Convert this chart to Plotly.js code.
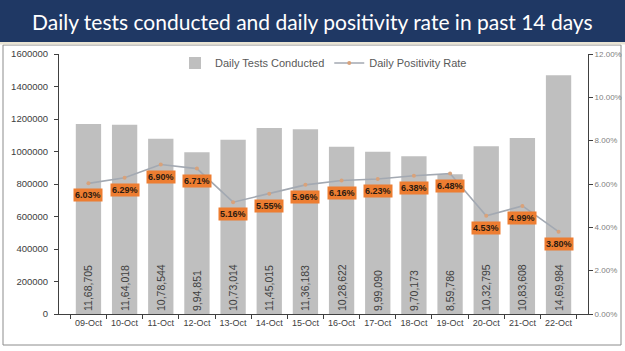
<!DOCTYPE html>
<html><head><meta charset="utf-8">
<script src="https://cdn.plot.ly/plotly-3.0.1.min.js"></script>
<style>html,body{margin:0;padding:0;background:#fff;overflow:hidden}#c{width:625px;height:351px}</style>
</head><body><div id="c"></div>
<script>
const dates = ["09-Oct","10-Oct","11-Oct","12-Oct","13-Oct","14-Oct","15-Oct","16-Oct","17-Oct","18-Oct","19-Oct","20-Oct","21-Oct","22-Oct"];
const tests = [1168705,1164018,1078544,994851,1073014,1145015,1136183,1028622,999090,970173,859786,1032795,1083608,1469984];
const testLabels = ["11,68,705","11,64,018","10,78,544","9,94,851","10,73,014","11,45,015","11,36,183","10,28,622","9,99,090","9,70,173","8,59,786","10,32,795","10,83,608","14,69,984"];
const rates = [6.03,6.29,6.90,6.71,5.16,5.55,5.96,6.16,6.23,6.38,6.48,4.53,4.99,3.80];

const L = 59, R = 588, T = 54, B = 314, W = 625, H = 351;
const px = x => (x - L) / (R - L);
const py = y => (B - y) / (B - T);

const traces = [
  {type:'bar', name:'Daily Tests Conducted', x:dates, y:tests, marker:{color:'#BFBFBF'}, width:0.7,
   text:testLabels, textposition:'inside', insidetextanchor:'start', textangle:-90,
   textfont:{family:'Liberation Sans, Arial', size:10.5, color:'#404040'}, hoverinfo:'none'},
  {type:'scatter', mode:'lines+markers', name:'Daily Positivity Rate', x:dates, y:rates, yaxis:'y2',
   line:{color:'#A3A9B2', width:1.6}, marker:{color:'#D9A27A', size:4}, hoverinfo:'none'}
];

const annotations = rates.map((r,i)=>({
  x:dates[i], y:r, xref:'x', yref:'y2', yshift:-12, showarrow:false,
  text:'<b>'+r.toFixed(2)+'%</b>', bgcolor:'#ED7D31', borderpad:1,
  font:{family:'Liberation Sans Narrow, Liberation Sans, Arial', size:9, color:'#2B1A10'}
}));
annotations.push({x:px(W/2), y:py(21), xref:'paper', yref:'paper', showarrow:false,
  xanchor:'center', yanchor:'middle',
  text:'Daily tests conducted and daily positivity rate in past 14 days',
  font:{family:'Lato, Open Sans', size:21, color:'#FFFFFF'}});

const layout = {
  width:W, height:H, margin:{l:L, r:W-R, t:T, b:H-B, pad:0, autoexpand:false},
  paper_bgcolor:'#FFFFFF', plot_bgcolor:'#FFFFFF', bargap:0.3,
  showlegend:true,
  legend:{orientation:'h', x:0.5, xanchor:'center', y:py(63), yanchor:'middle',
    font:{family:'Liberation Sans, Arial', size:11, color:'#595959'}, bgcolor:'rgba(0,0,0,0)', traceorder:'normal'},
  xaxis:{type:'category', showline:true, linecolor:'#404040', linewidth:1, ticks:'outside', ticklen:4,
    tickcolor:'#404040', tickson:'boundaries', showgrid:false, zeroline:false, tickangle:0, automargin:false,
    tickfont:{family:'Liberation Sans, Arial', size:9, color:'#404040'}},
  yaxis:{range:[0,1600000], dtick:200000, showline:true, linecolor:'#404040', linewidth:1, ticks:'outside',
    ticklen:4, tickcolor:'#404040', showgrid:false, zeroline:false, tickformat:'d', ticklabelstandoff:4, automargin:false,
    tickfont:{family:'Liberation Sans, Arial', size:9.5, color:'#404040'}},
  yaxis2:{overlaying:'y', side:'right', range:[0,12], dtick:2, tickformat:'.2f', ticksuffix:'%', automargin:false,
    showline:true, linecolor:'#404040', linewidth:1, ticks:'outside', ticklen:4, tickcolor:'#404040',
    showgrid:false, zeroline:false, tickfont:{family:'Liberation Sans, Arial', size:8, color:'#7F7F7F'}},
  shapes:[
    {type:'rect', xref:'paper', yref:'paper', x0:px(0), x1:px(W), y0:py(0), y1:py(42), fillcolor:'#1F3864', line:{width:0}, layer:'above'},
    {type:'rect', xref:'paper', yref:'paper', x0:px(0), x1:px(W), y0:py(42), y1:py(44.5), fillcolor:'#E9E4D4', line:{width:0}, layer:'above'},
    {type:'rect', xref:'paper', yref:'paper', x0:px(3), x1:px(621), y0:py(45), y1:py(345), fillcolor:'rgba(0,0,0,0)', line:{width:1, color:'#8C8C8C'}, layer:'below'}
  ],
  annotations:annotations
};
Plotly.newPlot('c', traces, layout, {staticPlot:true, displayModeBar:false});
</script></body></html>
